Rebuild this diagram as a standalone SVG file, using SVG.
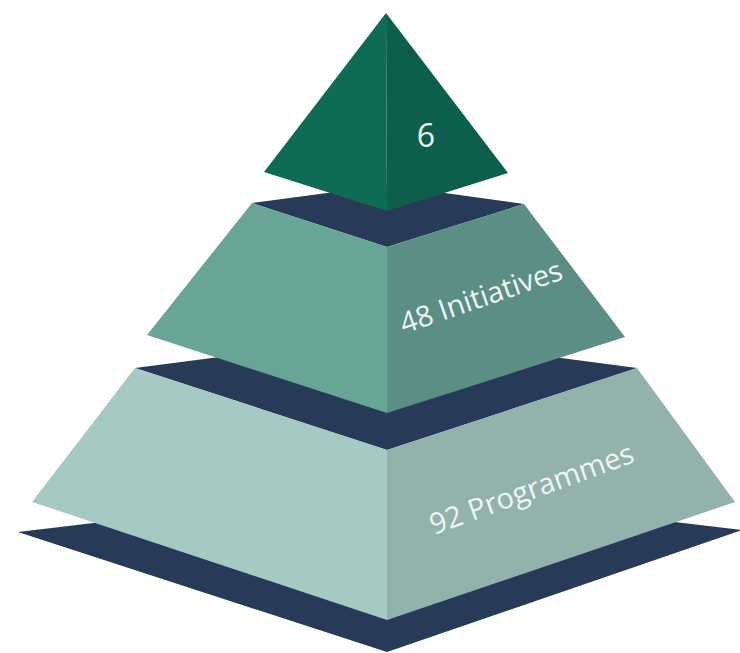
<svg xmlns="http://www.w3.org/2000/svg" width="740" height="653" viewBox="0 0 740 653">
<style>
.dark{fill:#273a57}
.lbl{fill:#eef6f3;font-family:"Open Sans","Noto Sans","DejaVu Sans",sans-serif}
</style>
<rect width="740" height="653" fill="#ffffff"/>
<g id="base-plate">
<polygon class="dark" points="18,532 387,652 742,530 387,488"/>
</g>
<g id="level-programmes">
<polygon class="dark" points="135,368 387,450 637,368 387,335"/>
<polygon fill="#a6c9c3" points="135,368 387,450 387,620 32,502"/>
<polygon fill="#92b2ab" points="387,450 637,368 735,502 387,620"/>
<text class="lbl" font-size="29" transform="translate(434,535) rotate(-20)">92 Programmes</text>
</g>
<g id="level-initiatives">
<polygon class="dark" points="252,203 387,247 524,204 387,185"/>
<polygon fill="#69a597" points="252,203 387,247 387,413 147,335"/>
<polygon fill="#5b8e85" points="387,247 524,204 625,337 387,413"/>
<text class="lbl" font-size="29" transform="translate(404,334) rotate(-19)">48 Initiatives</text>
</g>
<g id="level-top">
<polygon fill="#0e6b56" points="386,13 264,172 387,211"/>
<polygon fill="#0b5f4c" points="386,13 387,211 508,173"/>
<text class="lbl" font-size="32" x="426" y="147" text-anchor="middle">6</text>
</g>
<g id="connectors"></g>
</svg>
